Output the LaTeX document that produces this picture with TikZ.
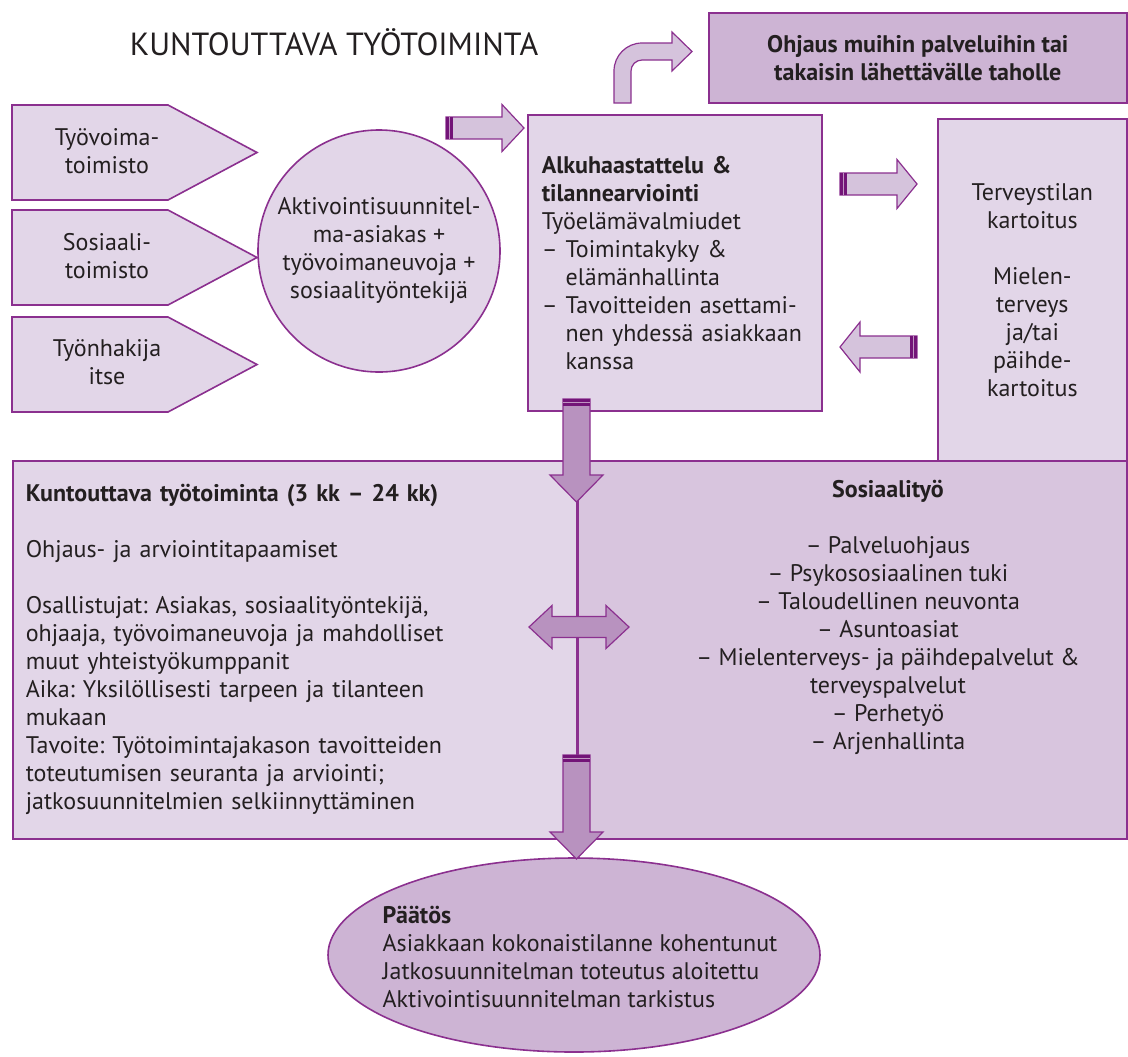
\documentclass[tikz,border=0pt]{standalone}
\usepackage{fontspec}
\setmainfont{PT Sans}
\usetikzlibrary{shapes.geometric}

\definecolor{lila}{RGB}{139,48,143}
\definecolor{pale}{RGB}{226,214,232}
\definecolor{pale2}{RGB}{216,197,222}
\definecolor{mauve}{RGB}{205,180,212}
\definecolor{arrowfill}{RGB}{213,195,220}
\definecolor{deep}{RGB}{184,146,191}
\definecolor{stripecol}{RGB}{115,20,120}
\definecolor{ink}{RGB}{35,31,32}

% name, tail, angle, length, half shaft, half head, head length, look
\newcommand{\blockarrow}[8]{%
  \begin{scope}[shift={#2}, rotate=#3]
    \draw[#8] (0,-#5) -- ({#4-#7},-#5) -- ({#4-#7},-#6) -- (#4,0) -- ({#4-#7},#6) -- ({#4-#7},#5) -- (0,#5) -- cycle;
    \fill[stripecol] (0,-#5) rectangle (7,#5);
    \draw[white!55!stripecol, line width=0.5pt] (3.8,-#5) -- (3.8,#5);
    \coordinate (#1 tail) at (0,0);
    \coordinate (#1 tip) at (#4,0);
  \end{scope}}

\begin{document}
\begin{tikzpicture}[x=0.5pt,y=0.5pt]
	\tikzstyle{every node}=[text=ink, font=\fontsize{12}{14}\selectfont\frenchspacing, inner sep=0pt]
	\tikzstyle{box}=[draw=lila, line width=0.8pt, fill=pale]
	\tikzstyle{lightarrow}=[draw=lila, line width=0.6pt, fill=arrowfill]
	\tikzstyle{darkarrow}=[draw=lila, line width=0.6pt, fill=deep]
	\useasboundingbox (0,0) rectangle (1128,-1056);

	\node (title) at (334,-42) [font=\fontsize{16}{18}\selectfont] {KUNTOUTTAVA TYÖTOIMINTA};

	% sources
	\draw[box] (12,-105) -- (168,-105) -- (257,-152.5) -- (168,-200) -- (12,-200) -- cycle;
	\draw[box] (12,-210) -- (168,-210) -- (257,-257.5) -- (168,-305) -- (12,-305) -- cycle;
	\draw[box] (12,-317) -- (168,-317) -- (257,-364.5) -- (168,-412) -- (12,-412) -- cycle;
	\node (src1) at (107,-151) [align=center] {Työvoima-\\toimisto};
	\node (src2) at (107,-256) [align=center] {Sosiaali-\\toimisto};
	\node (src3) at (107,-362) [align=center] {Työnhakija\\itse};

	\node (aktiv) at (379,-251) [box, circle, minimum size=121pt, align=center] {Aktivointisuunnitel-\\ma-asiakas +\\työvoimaneuvoja +\\sosiaalityöntekijä};

	\node (ohjaus) at (708,-12) [box, fill=mauve, anchor=north west, minimum width=209pt, minimum height=45pt, align=center, font=\fontsize{12}{14}\selectfont\bfseries] {Ohjaus muihin palveluihin tai\\takaisin lähettävälle taholle};

	\node (alku) at (527,-114) [box, anchor=north west, minimum width=147pt, minimum height=148pt, text width=133pt, inner xsep=7pt, align=left] {\textbf{Alkuhaastattelu \&}\\\textbf{tilannearviointi}\\Työelämävalmiudet\\–~Toimintakyky \&\\\phantom{–~}elämänhallinta\\–~Tavoitteiden asettami-\\\phantom{–~}nen yhdessä asiakkaan\\\phantom{–~}kanssa};

	\node (terveys) at (937,-118) [box, anchor=north west, minimum width=94.5pt, minimum height=171pt, align=center] {Terveystilan\\kartoitus\\[14pt]Mielen-\\terveys\\ja/tai\\päihde-\\kartoitus};

	% bottom block
	\node (kuntou) at (12,-460) [box, anchor=north west, minimum width=282.5pt, minimum height=189pt, text width=269.5pt, inner xsep=6.5pt, align=left] {\textbf{Kuntouttava työtoiminta (3 kk – 24 kk)}\\[14pt]Ohjaus- ja arviointitapaamiset\\[14pt]Osallistujat: Asiakas, sosiaalityöntekijä,\\ohjaaja, työvoimaneuvoja ja mahdolliset\\muut yhteistyökumppanit\\Aika: Yksilöllisesti tarpeen ja tilanteen\\mukaan\\Tavoite: Työtoimintajakason tavoitteiden\\toteutumisen seuranta ja arviointi;\\jatkosuunnitelmien selkiinnyttäminen};
	\node (sosiaali) at (577,-460) [box, fill=pale2, anchor=north west, minimum width=274.5pt, minimum height=189pt] {};
	\node (sostext) at (888,-480) [anchor=north, align=center] {\textbf{Sosiaalityö}\\[14pt]– Palveluohjaus\\– Psykososiaalinen tuki\\– Taloudellinen neuvonta\\– Asuntoasiat\\– Mielenterveys- ja päihdepalvelut \&\\terveyspalvelut\\– Perhetyö\\– Arjenhallinta};

	\node (paatos) at (574,-955) [box, ellipse, fill=mauve, minimum width=246pt, minimum height=97pt] {};
	\node (paatostext) at (580,-957) [align=left] {\textbf{Päätös}\\Asiakkaan kokonaistilanne kohentunut\\Jatkosuunnitelman toteutus aloitettu\\Aktivointisuunnitelman tarkistus};

	% block arrows
	\draw[lightarrow] (614,-103) -- (614,-71) arc[start angle=180, end angle=90, radius=28] -- (672,-43) -- (672,-32) -- (692,-51.5) -- (672,-71) -- (672,-60) -- (642,-60) arc[start angle=90, end angle=180, radius=11] -- (631,-103) -- cycle;
	\blockarrow{a1}{(446,-128)}{0}{78}{11}{23.5}{22}{lightarrow}
	\blockarrow{a2}{(840,-184)}{0}{77}{11}{24.5}{20}{lightarrow}
	\blockarrow{a3}{(917,-347)}{180}{77}{11}{25}{20}{lightarrow}
	\blockarrow{d1}{(576.5,-399)}{-90}{103}{13.5}{26.5}{27}{darkarrow}
	\blockarrow{d2}{(576.5,-755)}{-90}{104}{13.5}{26.5}{27}{darkarrow}
	\draw[lila, line width=0.8pt] (d1 tip) -- (d2 tail);
	\draw[darkarrow] (529,-627) -- (552,-605.5) -- (552,-616.5) -- (606,-616.5) -- (606,-605.5) -- (629,-627) -- (606,-648.5) -- (606,-637.5) -- (552,-637.5) -- (552,-648.5) -- cycle;
\end{tikzpicture}
\end{document}
